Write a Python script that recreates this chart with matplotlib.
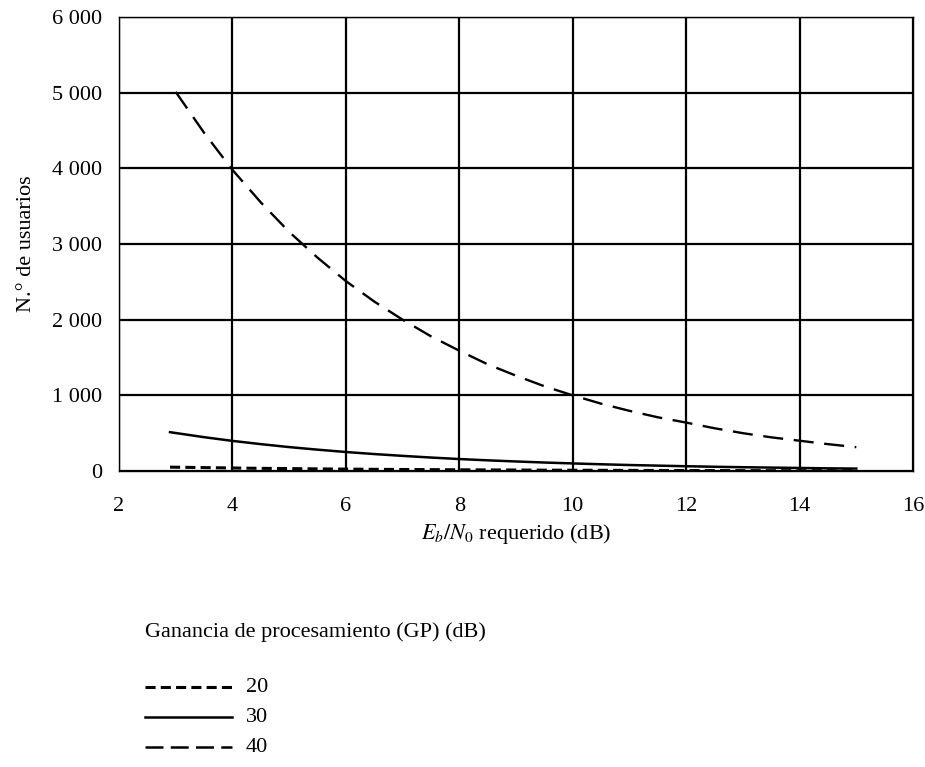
import matplotlib
matplotlib.use("Agg")
import matplotlib.pyplot as plt
from matplotlib.lines import Line2D
from matplotlib.ticker import FuncFormatter

plt.rcParams['font.family'] = ['Liberation Serif', 'DejaVu Serif']
plt.rcParams['mathtext.fontset'] = 'stix'

# Data
ebn0_40 = [3.0, 3.5, 4.0, 4.5, 5.0, 5.5, 6.0, 6.5, 7.0, 7.5, 8.0, 8.5, 9.0,
           9.5, 10.0, 10.5, 11.0, 11.5, 12.0, 12.5, 13.0, 13.5, 14.0, 14.5, 15.0]
users_40 = [5010, 4470, 3980, 3550, 3160, 2820, 2510, 2240, 2000, 1780, 1590, 1410, 1260,
            1120, 1000, 890, 795, 710, 640, 565, 500, 445, 400, 355, 315]

ebn0_low = [2.9, 3.5, 4.0, 4.5, 5.0, 5.5, 6.0, 6.5, 7.0, 7.5, 8.0, 8.5, 9.0,
            9.5, 10.0, 10.5, 11.0, 11.5, 12.0, 12.5, 13.0, 13.5, 14.0, 14.5, 15.0]
users_30 = [513, 447, 398, 355, 316, 282, 251, 224, 200, 178, 158, 141, 126,
            112, 100, 89, 79, 71, 63, 56, 50, 45, 40, 35, 32]
users_20 = [51, 45, 40, 35, 32, 28, 25, 22, 20, 18, 16, 14, 13,
            11, 10, 9, 8, 7, 6, 6, 5, 4, 4, 4, 3]

gp_labels = ['20', '30', '40']
x_ticks = [2, 4, 6, 8, 10, 12, 14, 16]
y_ticks = [0, 1000, 2000, 3000, 4000, 5000, 6000]

FS = 16

fig = plt.figure(figsize=(9.25, 7.67), dpi=100)
ax = fig.add_axes([119/925, 1-471/767, (913-119)/925, (471-17)/767])

style20 = dict(color='black', lw=2.2, linestyle=(0, (3.3, 1.7)))
style30 = dict(color='black', lw=1.8, linestyle='-')
style40 = dict(color='black', lw=1.7, linestyle=(0, (8.5, 4.5)))

ax.plot(ebn0_low, users_20, **style20, zorder=3)
ax.plot(ebn0_low, users_30, **style30, zorder=3)
ax.plot(ebn0_40, users_40, **style40, zorder=3)

ax.set_xlim(2, 16)
ax.set_ylim(0, 6000)
ax.set_xticks(x_ticks)
ax.set_yticks(y_ticks)
ax.yaxis.set_major_formatter(FuncFormatter(lambda v, p: f"{int(v):,}".replace(',', ' ')))
ax.grid(True, color='black', lw=1.6)
ax.set_axisbelow(True)
for s in ax.spines.values():
    s.set_linewidth(1.0)
ax.tick_params(length=0, labelsize=FS)
ax.tick_params(axis='x', pad=19)
ax.tick_params(axis='y', pad=12)

ax.set_xlabel(r'$E_b/N_0$ requerido (dB)', fontsize=FS, labelpad=4)
ax.set_ylabel('N.° de usuarios', fontsize=FS, labelpad=12)

# Legend (manual)
fig.text(145/925, 1-632/767, 'Ganancia de procesamiento (GP) (dB)', fontsize=FS,
         va='center', ha='left')
legend_styles = [style20, style30,
                 dict(color='black', lw=1.8, linestyle=(0, (7.2, 2.9)))]
rows_y = [687, 717, 747]
for lab, st, yy in zip(gp_labels, legend_styles, rows_y):
    yf = 1 - yy/767
    fig.add_artist(Line2D([145/925, 232/925], [yf, yf], transform=fig.transFigure, **st))
    fig.text(246/925, yf, lab, fontsize=FS, va='center', ha='left')

fig.savefig('out.png', dpi=100)
